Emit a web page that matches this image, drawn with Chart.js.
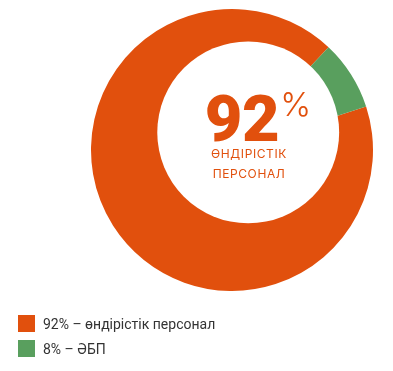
<!DOCTYPE html>
<html>
<head>
<meta charset="utf-8">
<script src="https://cdn.jsdelivr.net/npm/chart.js@4/dist/chart.umd.min.js"></script>
<style>
  html, body { margin: 0; padding: 0; background: #fff; }
  #wrap { position: relative; width: 393px; height: 371px; overflow: hidden; }
  #c { position: absolute; left: 0; top: 0; }
  #center { position: absolute; left: 249px; top: 84px; transform: translateX(-50%); text-align: center; color: #E1500D; font-family: Inter, Roboto, sans-serif; white-space: nowrap; }
  #center .top { position: relative; left: 9px; top: 2px; }
  #center .num { font-family: Roboto, Inter, sans-serif; font-size: 65px; font-weight: 900; line-height: 66px; letter-spacing: -0.5px; }
  #center .pct { font-size: 33px; font-weight: 300; vertical-align: top; line-height: 36px; margin-left: 1px; }
  #center .sub { font-size: 12px; font-weight: 400; letter-spacing: 0.6px; line-height: 20px; margin-top: -6px; }
  #legend { position: absolute; left: 18px; top: 311px; font-family: Roboto, Inter, sans-serif; font-size: 14px; color: #333; }
  #legend .item { display: flex; align-items: center; height: 25px; }
  #legend .box { width: 17px; height: 17px; margin-right: 8px; }
</style>
</head>
<body>
<div id="wrap">
  <canvas id="c" width="393" height="371"></canvas>
  <div id="center"><div class="top"><span class="num">92</span><span class="pct">%</span></div><div class="sub">ӨНДІРІСТІК<br>ПЕРСОНАЛ</div></div>
  <div id="legend"></div>
</div>
<script>
const categories = ["92% – өндірістік персонал", "8% – ӘБП"];
const values = [92, 8];
const colors = ["#E1500D", "#599F5E"];

// HTML legend built from the data arrays
const legend = document.getElementById('legend');
categories.forEach((label, i) => {
  const item = document.createElement('div');
  item.className = 'item';
  const box = document.createElement('div');
  box.className = 'box';
  box.style.background = colors[i];
  const txt = document.createElement('span');
  txt.textContent = label;
  item.appendChild(box);
  item.appendChild(txt);
  legend.appendChild(item);
});

// Offset white hole drawn over the pie
const offsetHole = {
  id: 'offsetHole',
  afterDatasetsDraw(chart) {
    const arc = chart.getDatasetMeta(0).data[0];
    if (!arc) return;
    const R = arc.outerRadius;
    const cx = arc.x + 0.115 * R;
    const cy = arc.y - 0.125 * R;
    const r = 0.645 * R;
    const ctx = chart.ctx;
    ctx.save();
    ctx.beginPath();
    ctx.arc(cx, cy, r, 0, Math.PI * 2);
    ctx.fillStyle = '#ffffff';
    ctx.fill();
    ctx.restore();
  }
};

new Chart(document.getElementById('c'), {
  type: 'pie',
  data: {
    labels: categories,
    datasets: [{
      data: values,
      backgroundColor: colors,
      borderWidth: 0
    }]
  },
  options: {
    responsive: false,
    animation: false,
    rotation: 72,
    layout: { padding: { left: 91, right: 20, top: 9, bottom: 80 } },
    plugins: { legend: { display: false }, tooltip: { enabled: false } }
  },
  plugins: [offsetHole]
});
</script>
</body>
</html>
